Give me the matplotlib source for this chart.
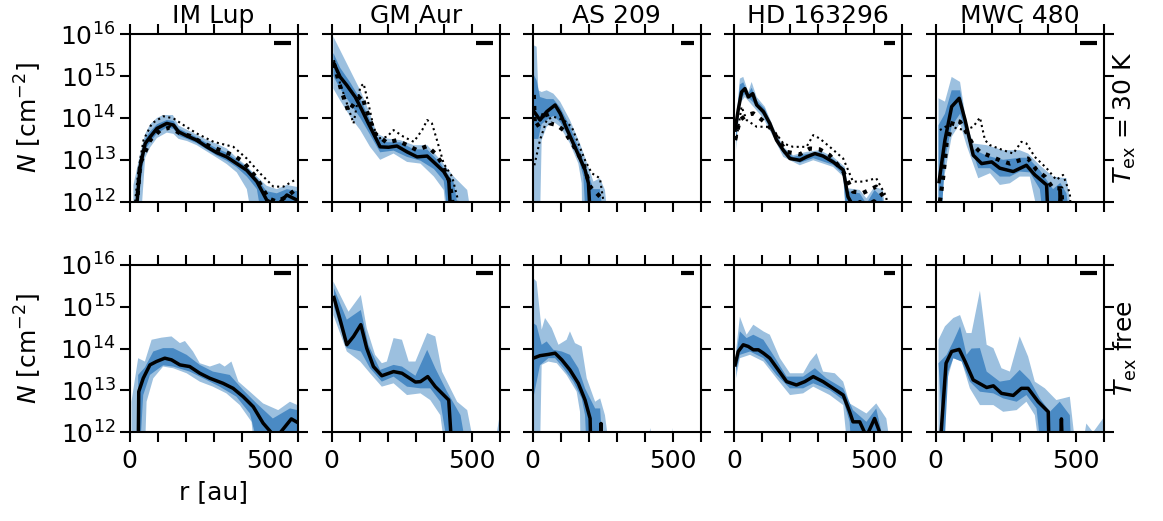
import numpy as np
import matplotlib
matplotlib.use('Agg')
import matplotlib.pyplot as plt
from matplotlib.ticker import NullLocator

# values are log10(N / cm^-2) against r [au]; 11.5 means "below the plot"
sources = ['IM Lup', 'GM Aur', 'AS 209', 'HD 163296', 'MWC 480']
row_labels = [r'$T_{\rm ex}$ = 30 K', r'$T_{\rm ex}$ free']
beam_au = [60, 60, 48, 40, 59]

# ---- IM Lup, Tex = 30 K
imlup_30k_med = [(24, 11.5), (27, 12.0), (38, 12.84), (56, 13.39), (74, 13.55), (98, 13.75), (133, 13.87), (157, 13.83), (175, 13.67), (205, 13.57), (240, 13.47), (276, 13.31), (312, 13.17), (347, 13.07), (383, 12.91), (419, 12.75), (455, 12.48), (490, 12.04), (526, 11.9), (562, 12.16), (595, 12.05)]
imlup_30k_hi2 = [(14, 12.4), (24, 12.7), (38, 13.15), (56, 13.62), (74, 13.85), (98, 14.0), (120, 14.07), (155, 14.07), (175, 13.82), (205, 13.72), (240, 13.6), (276, 13.48), (312, 13.38), (347, 13.27), (383, 13.05), (419, 12.85), (455, 12.6), (490, 12.38), (526, 12.3), (562, 12.4), (600, 12.35)]
imlup_30k_lo2 = [(14, 11.5), (40, 11.5), (56, 13.05), (74, 13.3), (98, 13.52), (133, 13.65), (157, 13.62), (175, 13.5), (205, 13.45), (240, 13.35), (276, 13.2), (312, 13.05), (347, 12.9), (383, 12.7), (419, 12.3), (440, 11.5), (600, 11.5)]
imlup_30k_hi1 = [(20, 11.5), (26, 12.3), (38, 13.0), (56, 13.5), (74, 13.68), (98, 13.85), (133, 13.95), (157, 13.93), (175, 13.75), (205, 13.65), (240, 13.54), (276, 13.4), (312, 13.27), (347, 13.17), (383, 13.0), (419, 12.82), (455, 12.56), (490, 12.25), (526, 12.2), (562, 12.3), (600, 12.25)]
imlup_30k_lo1 = [(24, 11.5), (40, 12.5), (56, 13.25), (74, 13.42), (98, 13.63), (133, 13.77), (157, 13.74), (175, 13.58), (205, 13.5), (240, 13.4), (276, 13.25), (312, 13.1), (347, 12.98), (383, 12.82), (419, 12.6), (455, 12.3), (475, 11.5), (600, 11.5)]
imlup_30k_dthick = [(26, 11.9), (38, 12.91), (74, 13.47), (110, 13.71), (145, 13.77), (181, 13.63), (217, 13.57), (264, 13.39), (324, 13.23), (371, 13.11), (407, 12.95), (455, 12.56), (496, 12.08), (526, 12.0), (562, 12.12), (591, 12.28)]
imlup_30k_dthin = [(20, 12.0), (32, 12.76), (50, 13.47), (80, 13.87), (121, 14.04), (157, 13.99), (193, 13.83), (240, 13.63), (300, 13.43), (371, 13.31), (419, 13.03), (466, 12.68), (514, 12.36), (550, 12.36), (591, 12.52)]

# ---- GM Aur, Tex = 30 K
gmaur_30k_med = [(8, 15.3), (30, 14.98), (54, 14.78), (84, 14.5), (108, 14.19), (131, 13.87), (155, 13.55), (173, 13.31), (203, 13.3), (233, 13.33), (269, 13.19), (305, 13.07), (341, 13.09), (370, 12.91), (400, 12.72), (418, 12.52), (427, 11.5)]
gmaur_30k_hi2 = [(6, 15.94), (30, 15.62), (66, 15.14), (102, 14.66), (137, 14.1), (161, 13.63), (197, 13.51), (245, 13.47), (293, 13.35), (341, 13.35), (388, 13.0), (436, 12.6), (484, 12.28), (502, 11.5), (585, 11.5), (600, 12.15)]
gmaur_30k_lo2 = [(6, 14.7), (30, 14.42), (66, 14.03), (102, 13.71), (137, 13.31), (173, 13.0), (221, 13.15), (269, 12.95), (317, 12.91), (365, 12.6), (400, 12.28), (412, 11.5), (600, 11.5)]
gmaur_30k_hi1 = [(6, 15.55), (30, 15.2), (66, 14.85), (102, 14.45), (137, 13.95), (161, 13.55), (197, 13.42), (245, 13.42), (293, 13.25), (341, 13.25), (388, 12.92), (436, 12.45), (460, 11.5), (600, 11.5)]
gmaur_30k_lo1 = [(6, 15.0), (30, 14.7), (66, 14.35), (102, 14.0), (137, 13.6), (173, 13.18), (221, 13.22), (269, 13.07), (317, 12.98), (365, 12.78), (400, 12.5), (418, 11.5), (600, 11.5)]
gmaur_30k_dthick = [(8, 15.3), (24, 14.9), (36, 14.62), (48, 14.39), (60, 14.15), (84, 14.39), (108, 14.54), (120, 14.27), (137, 13.95), (155, 13.63), (197, 13.41), (233, 13.47), (269, 13.35), (305, 13.23), (341, 13.33), (370, 13.15), (394, 12.91), (418, 12.52), (430, 12.12), (435, 11.5)]
gmaur_30k_dthin = [(8, 15.38), (30, 14.82), (54, 14.35), (78, 13.87), (102, 14.74), (114, 14.82), (131, 14.35), (149, 13.79), (167, 13.51), (197, 13.55), (221, 13.71), (257, 13.55), (293, 13.43), (323, 13.71), (341, 13.95), (358, 13.87), (376, 13.47), (400, 12.91), (430, 12.6), (448, 12.12), (452, 11.5)]

# ---- AS 209, Tex = 30 K
as209_30k_med = [(5, 14.15), (26, 13.95), (50, 14.15), (80, 14.31), (98, 14.11), (121, 13.75), (145, 13.39), (169, 13.03), (187, 12.76), (199, 12.44), (207, 11.5)]
as209_30k_hi2 = [(2, 15.74), (14, 15.7), (20, 14.66), (32, 14.62), (50, 14.66), (74, 14.58), (98, 14.39), (133, 13.95), (169, 13.39), (199, 12.83), (217, 12.48), (240, 12.56), (258, 12.28), (270, 11.5), (600, 11.5)]
as209_30k_lo2 = [(2, 11.5), (26, 11.5), (32, 13.47), (50, 13.79), (74, 13.91), (98, 13.79), (133, 13.39), (163, 12.91), (175, 12.44), (177, 11.5), (600, 11.5)]
as209_30k_hi1 = [(2, 15.05), (14, 14.9), (26, 14.5), (50, 14.45), (74, 14.45), (98, 14.25), (133, 13.8), (169, 13.2), (199, 12.65), (217, 12.3), (240, 12.3), (255, 11.5), (600, 11.5)]
as209_30k_lo1 = [(2, 13.5), (20, 13.5), (32, 13.85), (50, 13.95), (74, 14.05), (98, 13.9), (133, 13.5), (163, 13.05), (181, 12.6), (190, 11.5), (600, 11.5)]
as209_30k_dthick = [(4, 14.55), (8, 13.79), (26, 13.87), (44, 14.19), (62, 13.87), (86, 13.83), (110, 13.71), (145, 13.35), (181, 12.91), (205, 12.36), (229, 12.2), (246, 12.08), (250, 11.5)]
as209_30k_dthin = [(6, 12.87), (26, 13.47), (50, 13.95), (74, 14.03), (110, 13.95), (139, 13.79), (163, 13.39), (187, 12.99), (211, 12.68), (240, 12.56), (252, 12.04), (255, 11.5)]

# ---- HD 163296, Tex = 30 K
hd163_30k_med = [(4, 13.71), (15, 14.19), (27, 14.62), (39, 14.7), (51, 14.5), (67, 14.58), (81, 14.31), (105, 14.15), (128, 13.87), (152, 13.47), (176, 13.23), (200, 13.03), (235, 12.99), (259, 13.07), (289, 13.15), (318, 13.09), (354, 12.95), (390, 12.76), (407, 12.12), (425, 11.9), (450, 12.0), (470, 11.9), (500, 12.02), (520, 11.9)]
hd163_30k_hi2 = [(7, 13.87), (21, 14.94), (33, 14.98), (51, 14.62), (63, 14.86), (81, 14.5), (110, 14.27), (140, 13.79), (176, 13.31), (211, 13.11), (259, 13.19), (306, 13.23), (354, 13.07), (396, 12.83), (407, 12.32), (449, 12.28), (473, 12.08), (502, 12.36), (532, 12.28), (544, 11.5), (600, 11.5)]
hd163_30k_lo2 = [(7, 13.23), (21, 14.35), (39, 14.5), (69, 14.27), (105, 13.99), (140, 13.55), (176, 13.07), (235, 12.87), (283, 12.99), (354, 12.83), (390, 12.6), (401, 11.5), (600, 11.5)]
hd163_30k_hi1 = [(7, 13.8), (21, 14.8), (33, 14.85), (51, 14.58), (63, 14.72), (81, 14.42), (110, 14.22), (140, 13.72), (176, 13.28), (211, 13.07), (259, 13.14), (306, 13.18), (354, 13.02), (396, 12.78), (407, 12.25), (449, 12.2), (473, 11.95), (502, 12.28), (530, 12.1), (540, 11.5), (600, 11.5)]
hd163_30k_lo1 = [(7, 13.4), (21, 14.45), (39, 14.57), (69, 14.37), (105, 14.06), (140, 13.62), (176, 13.15), (235, 12.93), (283, 13.04), (354, 12.88), (390, 12.66), (403, 11.5), (600, 11.5)]
hd163_30k_dthick = [(4, 13.47), (21, 13.95), (45, 14.07), (69, 14.11), (93, 13.99), (122, 13.83), (152, 13.55), (188, 13.19), (235, 13.13), (271, 13.27), (306, 13.25), (342, 13.11), (390, 12.72), (425, 12.24), (461, 12.21), (508, 12.36), (538, 12.08), (545, 11.5)]
hd163_30k_dthin = [(10, 13.55), (27, 14.27), (45, 13.95), (81, 13.79), (116, 13.79), (146, 13.67), (176, 13.39), (211, 13.31), (259, 13.31), (283, 13.59), (306, 13.51), (342, 13.31), (390, 13.03), (425, 12.48), (461, 12.48), (508, 12.56), (544, 12.12), (550, 11.5)]

# ---- MWC 480, Tex = 30 K
mwc480_30k_med = [(12, 12.48), (33, 13.47), (57, 14.27), (84, 14.47), (105, 13.95), (134, 13.11), (164, 12.91), (200, 12.95), (229, 12.8), (277, 12.72), (324, 12.87), (354, 12.64), (396, 12.4), (402, 11.5), (440, 11.5), (445, 12.28), (452, 11.5)]
mwc480_30k_hi2 = [(10, 14.47), (33, 14.39), (57, 14.98), (87, 14.86), (110, 13.87), (134, 13.39), (182, 13.35), (241, 13.23), (300, 13.23), (330, 13.15), (372, 12.87), (419, 12.6), (467, 12.56), (491, 11.5), (585, 11.5), (600, 12.0)]
mwc480_30k_lo2 = [(10, 11.5), (33, 12.68), (57, 13.55), (87, 13.87), (110, 13.35), (152, 12.56), (194, 12.68), (229, 12.4), (265, 12.44), (300, 12.6), (336, 12.6), (372, 11.5), (600, 11.5)]
mwc480_30k_hi1 = [(10, 13.83), (33, 14.1), (57, 14.66), (87, 14.66), (110, 13.8), (134, 13.25), (182, 13.1), (241, 13.0), (300, 13.05), (330, 13.05), (372, 12.75), (419, 12.3), (445, 12.45), (467, 12.2), (480, 11.5), (600, 11.5)]
mwc480_30k_lo1 = [(10, 11.5), (20, 11.5), (33, 13.0), (57, 13.8), (87, 14.1), (110, 13.6), (152, 12.8), (194, 12.8), (229, 12.6), (265, 12.6), (300, 12.72), (336, 12.7), (372, 12.3), (385, 11.5), (600, 11.5)]
mwc480_30k_dthick = [(15, 12.0), (27, 12.6), (39, 13.39), (63, 13.95), (87, 13.91), (105, 13.71), (134, 13.35), (158, 13.19), (194, 13.09), (229, 12.99), (265, 12.91), (300, 12.99), (330, 13.03), (360, 12.76), (390, 12.6), (419, 12.32), (449, 12.32), (455, 11.5)]
mwc480_30k_dthin = [(15, 13.71), (45, 13.83), (75, 13.75), (105, 13.71), (134, 13.79), (158, 14.01), (176, 13.47), (194, 13.35), (241, 13.23), (277, 13.15), (306, 13.43), (324, 13.39), (354, 13.07), (396, 12.8), (431, 12.52), (455, 12.64), (479, 12.2), (485, 11.5)]

# ---- IM Lup, Tex free
imlup_free_med = [(31, 11.5), (33, 12.97), (49, 13.29), (73, 13.61), (96, 13.69), (126, 13.77), (150, 13.73), (180, 13.61), (215, 13.57), (251, 13.41), (287, 13.29), (334, 13.17), (370, 13.05), (406, 12.85), (442, 12.61), (477, 12.22), (512, 11.95), (537, 11.98), (578, 12.32), (596, 12.25)]
imlup_free_hi2 = [(7, 12.73), (31, 13.77), (55, 13.69), (79, 14.21), (114, 14.26), (150, 14.29), (180, 14.13), (198, 14.18), (227, 13.93), (251, 13.65), (287, 13.57), (322, 13.65), (340, 13.57), (364, 13.69), (389, 13.21), (430, 12.97), (477, 12.69), (531, 12.53), (573, 12.73), (600, 12.65)]
imlup_free_lo2 = [(7, 11.5), (55, 11.5), (61, 12.73), (85, 13.29), (120, 13.57), (156, 13.53), (204, 13.41), (251, 13.21), (298, 13.09), (346, 12.93), (394, 12.65), (436, 12.25), (447, 11.5), (600, 11.5)]
imlup_free_hi1 = [(31, 13.37), (55, 13.55), (85, 13.93), (120, 14.01), (156, 14.01), (204, 13.85), (251, 13.61), (298, 13.45), (358, 13.37), (406, 13.01), (454, 12.69), (512, 12.33), (573, 12.57), (600, 12.53)]
imlup_free_lo1 = [(31, 11.5), (37, 11.5), (49, 12.89), (73, 13.37), (120, 13.6), (156, 13.57), (215, 13.45), (263, 13.29), (322, 13.09), (382, 12.85), (430, 12.45), (465, 11.5), (600, 11.5)]

# ---- GM Aur, Tex free
gmaur_free_med = [(8, 15.22), (30, 14.69), (54, 14.09), (78, 14.29), (104, 14.57), (125, 14.01), (149, 13.57), (179, 13.35), (221, 13.45), (251, 13.41), (299, 13.2), (317, 13.21), (343, 13.33), (370, 13.09), (400, 12.89), (418, 12.77), (430, 11.5)]
gmaur_free_hi2 = [(6, 15.6), (60, 14.88), (104, 15.28), (125, 14.49), (155, 13.85), (179, 13.65), (197, 13.69), (221, 14.25), (251, 14.21), (275, 13.69), (299, 13.69), (341, 14.37), (370, 14.29), (394, 13.45), (412, 13.21), (448, 12.73), (484, 12.53), (514, 11.5), (578, 11.5), (600, 12.41)]
gmaur_free_lo2 = [(6, 14.8), (54, 13.93), (102, 13.69), (137, 13.41), (179, 13.09), (221, 13.17), (269, 12.89), (317, 12.93), (352, 12.77), (388, 12.41), (406, 11.5), (600, 11.5)]
gmaur_free_hi1 = [(8, 15.44), (54, 14.69), (104, 14.92), (131, 14.09), (173, 13.49), (221, 13.61), (251, 13.57), (299, 13.35), (341, 13.97), (370, 13.53), (412, 12.97), (460, 12.41), (484, 11.5), (600, 11.5)]
gmaur_free_lo1 = [(8, 15.0), (54, 14.01), (104, 13.93), (137, 13.53), (179, 13.21), (221, 13.33), (269, 13.09), (317, 13.05), (352, 13.05), (388, 12.73), (418, 11.5), (600, 11.5)]

# ---- AS 209, Tex free
as209_free_med = [(2, 13.77), (26, 13.83), (56, 13.86), (80, 13.89), (104, 13.73), (133, 13.49), (163, 13.17), (187, 12.77), (205, 12.33), (208, 11.5), (240, 11.5), (244, 12.21), (247, 11.5)]
as209_free_hi2 = [(2, 15.68), (14, 15.6), (32, 14.45), (44, 14.73), (68, 14.49), (92, 14.09), (121, 14.21), (133, 14.41), (151, 14.13), (175, 14.05), (193, 13.29), (223, 12.73), (241, 12.81), (258, 12.41), (276, 11.5), (300, 11.5), (315, 12.05), (330, 11.5), (405, 11.5), (420, 12.1), (435, 11.5), (493, 11.5), (500, 12.1), (507, 11.5), (600, 11.5)]
as209_free_lo2 = [(2, 11.5), (26, 11.5), (32, 13.61), (56, 13.69), (86, 13.65), (121, 13.37), (157, 12.97), (169, 12.49), (171, 11.5), (600, 11.5)]
as209_free_hi1 = [(2, 14.61), (14, 14.55), (32, 14.09), (50, 14.17), (74, 13.97), (104, 13.93), (133, 13.85), (163, 13.53), (187, 13.05), (223, 12.57), (241, 12.57), (250, 11.5), (600, 11.5)]
as209_free_lo1 = [(2, 12.81), (26, 13.6), (56, 13.77), (80, 13.77), (110, 13.53), (145, 13.21), (175, 12.81), (187, 12.41), (193, 11.5), (600, 11.5)]

# ---- HD 163296, Tex free
hd163_free_med = [(4, 13.61), (15, 13.93), (33, 14.09), (51, 14.05), (69, 13.97), (87, 13.97), (105, 13.89), (128, 13.77), (158, 13.49), (188, 13.21), (223, 13.13), (253, 13.21), (283, 13.33), (318, 13.21), (354, 13.05), (390, 12.89), (413, 12.49), (425, 12.25), (449, 12.25), (473, 11.9), (502, 12.33), (526, 11.9)]
hd163_free_hi2 = [(7, 13.93), (21, 14.76), (45, 14.33), (69, 14.57), (105, 14.41), (128, 14.33), (164, 13.77), (200, 13.41), (247, 13.41), (271, 13.69), (295, 13.89), (318, 13.45), (360, 13.41), (390, 13.21), (413, 12.69), (473, 12.45), (508, 12.69), (544, 12.33), (562, 11.5), (590, 11.5), (600, 12.2)]
hd163_free_lo2 = [(7, 13.29), (21, 13.77), (57, 13.85), (105, 13.69), (152, 13.29), (200, 12.89), (247, 12.93), (283, 13.09), (342, 12.89), (390, 12.65), (407, 11.5), (600, 11.5)]
hd163_free_hi1 = [(7, 13.8), (21, 14.41), (45, 14.25), (69, 14.33), (105, 14.21), (140, 13.85), (188, 13.33), (247, 13.33), (289, 13.53), (330, 13.29), (390, 13.05), (425, 12.53), (473, 12.25), (508, 12.57), (544, 11.5), (600, 11.5)]
hd163_free_lo1 = [(7, 13.45), (21, 13.85), (57, 13.93), (105, 13.77), (152, 13.37), (200, 13.05), (247, 13.05), (283, 13.17), (342, 13.01), (390, 12.77), (413, 12.25), (420, 11.5), (600, 11.5)]

# ---- MWC 480, Tex free
mwc480_free_med = [(14, 11.5), (37, 13.65), (57, 13.93), (84, 13.98), (105, 13.69), (134, 13.25), (182, 13.07), (206, 13.11), (235, 12.93), (277, 12.88), (306, 13.05), (330, 13.05), (366, 12.73), (402, 12.49), (405, 11.5), (445, 11.5), (449, 12.32), (453, 11.5)]
mwc480_free_hi2 = [(10, 14.21), (33, 14.53), (63, 14.73), (87, 14.8), (110, 14.37), (128, 14.37), (158, 15.38), (182, 14.09), (206, 14.01), (235, 13.53), (265, 13.45), (300, 14.29), (330, 13.81), (354, 13.21), (390, 13.05), (431, 12.77), (479, 12.85), (502, 11.5), (520, 11.5), (538, 12.21), (562, 12.0), (600, 12.35)]
mwc480_free_lo2 = [(10, 11.5), (39, 13.21), (63, 13.77), (93, 13.69), (122, 13.05), (158, 12.65), (206, 12.65), (241, 12.49), (289, 12.53), (324, 12.73), (354, 12.41), (372, 11.5), (600, 11.5)]
mwc480_free_hi1 = [(10, 13.65), (39, 13.85), (63, 14.17), (87, 14.53), (110, 13.85), (128, 14.0), (158, 14.01), (182, 13.45), (229, 13.21), (265, 13.25), (300, 13.49), (336, 13.25), (372, 12.81), (408, 12.49), (443, 12.73), (479, 12.41), (485, 11.5), (600, 11.5)]
mwc480_free_lo1 = [(30, 11.5), (45, 13.45), (63, 13.77), (93, 13.69), (122, 13.21), (158, 12.97), (206, 12.93), (241, 12.81), (289, 12.73), (324, 12.89), (360, 12.57), (378, 11.5), (600, 11.5)]

top_row = [
    (imlup_30k_med, imlup_30k_lo1, imlup_30k_hi1, imlup_30k_lo2, imlup_30k_hi2, imlup_30k_dthick, imlup_30k_dthin),
    (gmaur_30k_med, gmaur_30k_lo1, gmaur_30k_hi1, gmaur_30k_lo2, gmaur_30k_hi2, gmaur_30k_dthick, gmaur_30k_dthin),
    (as209_30k_med, as209_30k_lo1, as209_30k_hi1, as209_30k_lo2, as209_30k_hi2, as209_30k_dthick, as209_30k_dthin),
    (hd163_30k_med, hd163_30k_lo1, hd163_30k_hi1, hd163_30k_lo2, hd163_30k_hi2, hd163_30k_dthick, hd163_30k_dthin),
    (mwc480_30k_med, mwc480_30k_lo1, mwc480_30k_hi1, mwc480_30k_lo2, mwc480_30k_hi2, mwc480_30k_dthick, mwc480_30k_dthin),
]
bottom_row = [
    (imlup_free_med, imlup_free_lo1, imlup_free_hi1, imlup_free_lo2, imlup_free_hi2, None, None),
    (gmaur_free_med, gmaur_free_lo1, gmaur_free_hi1, gmaur_free_lo2, gmaur_free_hi2, None, None),
    (as209_free_med, as209_free_lo1, as209_free_hi1, as209_free_lo2, as209_free_hi2, None, None),
    (hd163_free_med, hd163_free_lo1, hd163_free_hi1, hd163_free_lo2, hd163_free_hi2, None, None),
    (mwc480_free_med, mwc480_free_lo1, mwc480_free_hi1, mwc480_free_lo2, mwc480_free_hi2, None, None),
]

light = '#9cc0df'
dark = '#4a8ac4'
fs = 18


def xy(pairs):
    a = np.array(pairs, dtype=float)
    return a[:, 0], 10 ** a[:, 1]


def band(ax, lo, hi, color):
    rh, nh = xy(hi)
    rl, nl = xy(lo)
    ax.fill(np.r_[rh, rl[::-1]], np.r_[nh, nl[::-1]], color=color, lw=0)


plt.rcParams['font.family'] = 'DejaVu Sans'
plt.rcParams['mathtext.fontset'] = 'dejavusans'
fig = plt.figure(figsize=(11.63, 5.21), dpi=100)

col_left = [129.5, 331.7, 532.7, 734.0, 935.7]
row_bottom = [1 - 201.7 / 521, 1 - 432.3 / 521]
w = 168 / 1163
h = 167.5 / 521

for i, row in enumerate([top_row, bottom_row]):
    for j, (med, lo1, hi1, lo2, hi2, dthick, dthin) in enumerate(row):
        ax = fig.add_axes([col_left[j] / 1163, row_bottom[i], w, h])
        ax.set_yscale('log')
        band(ax, lo2, hi2, light)
        band(ax, lo1, hi1, dark)
        if dthick is not None:
            r, n = xy(dthick)
            ax.plot(r, n, color='k', lw=3, ls=':')
            r, n = xy(dthin)
            ax.plot(r, n, color='k', lw=1.5, ls=':')
        r, n = xy(med)
        ax.plot(r, n, color='k', lw=2.5)
        # beam size bar
        ax.plot([576 - beam_au[j], 576], [10 ** 15.8, 10 ** 15.8], color='k', lw=3, solid_capstyle='butt')

        ax.set_xlim(0, 600)
        ax.set_ylim(1e12, 1e16)
        ax.set_yticks([1e12, 1e13, 1e14, 1e15, 1e16])
        ax.yaxis.set_minor_locator(NullLocator())
        ax.set_xticks(range(0, 601, 100))
        ax.set_xticklabels(['0', '', '', '', '', '500', ''])
        ax.tick_params(direction='out', length=7, width=1.5, top=True, right=True,
                       labelsize=fs, labelleft=(j == 0), labelbottom=(i == 1), pad=3)
        ax.tick_params(axis='x', pad=5)
        for s in ax.spines.values():
            s.set_linewidth(1.5)

        if i == 0:
            ax.set_title(sources[j], fontsize=fs, pad=8)
        if j == 0:
            ax.set_ylabel(r'$N$ [cm$^{-2}$]', fontsize=fs, labelpad=12)
        if j == 4:
            ax.text(1.05, 0.5, row_labels[i], transform=ax.transAxes, rotation=90,
                    va='center', ha='left', fontsize=fs)
        if i == 1 and j == 0:
            ax.set_xlabel('r [au]', fontsize=fs, labelpad=5)

fig.savefig('out.png', dpi=100)
